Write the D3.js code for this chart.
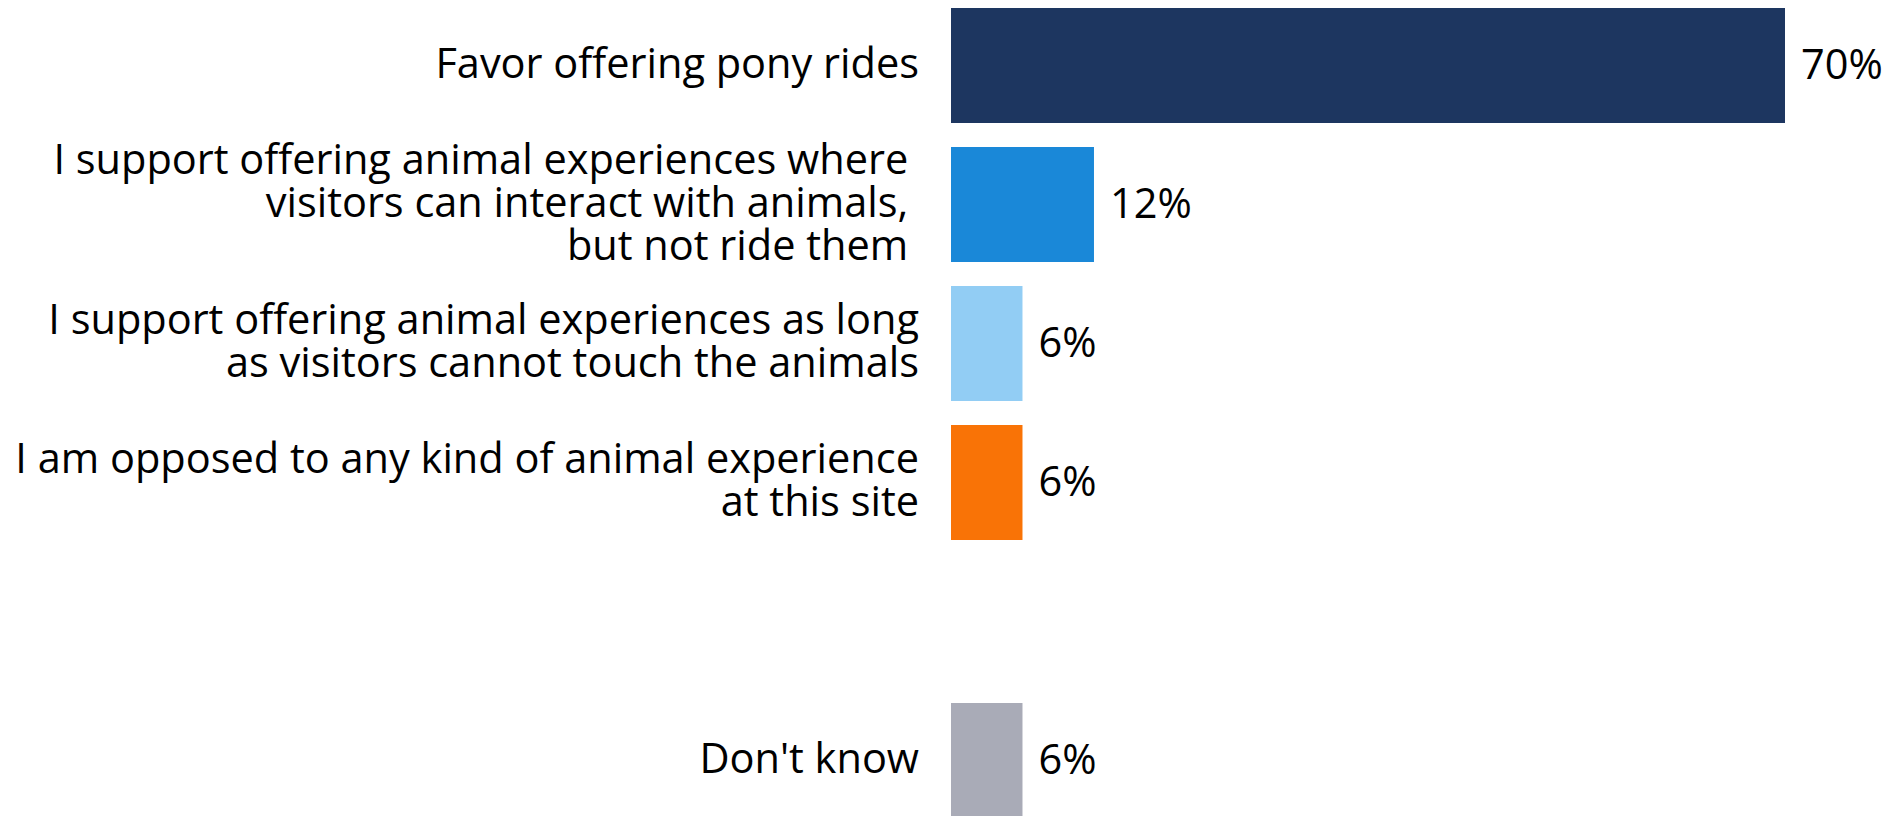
<!DOCTYPE html>
<html>
<head>
<meta charset="utf-8">
<script src="https://cdn.jsdelivr.net/npm/d3@7"></script>
<style>
  body { margin: 0; background: #fff; }
  text { font-family: "Open Sans", sans-serif; fill: #000; white-space: pre; }
</style>
</head>
<body>
<svg id="grafica"></svg>
<script>
const svg_w = 1889;
const svg_h = 816;

// categorías (líneas de cada etiqueta), valores y colores
const categories = ["pony", "interact", "notouch", "opposed", "gap", "dontknow"];
const label_lines = [
  ["Favor offering pony rides"],
  ["I support offering animal experiences where ", "visitors can interact with animals, ", "but not ride them "],
  ["I support offering animal experiences as long", "as visitors cannot touch the animals"],
  ["I am opposed to any kind of animal experience", "at this site"],
  [],
  ["Don't know"]
];
const values = [70, 12, 6, 6, null, 6];
const colors = ["#1d3660", "#1a88d8", "#92cdf4", "#f97306", "none", "#a9abb7"];

const margin = {l: 951, t: 8};

let data = categories.map((c, i) => ({key: c, lines: label_lines[i], value: values[i], color: colors[i]}));

let svg = d3.select("#grafica")
  .attr("width", svg_w)
  .attr("height", svg_h)

// escala x: 0-70% ocupa ~834 px
let x_scale = d3.scaleLinear()
  .domain([0, 70])
  .range([0, 834])

let y_scale = d3.scaleBand()
  .domain(categories)
  .range([margin.t, margin.t + 6 * 139 - 24])
  .paddingInner(24 / 139)
  .paddingOuter(0)

let rows = svg.append("g")
  .attr("transform", `translate(${margin.l},0)`)
  .selectAll("g")
  .data(data.filter(d => d.value != null))
  .enter()
  .append("g")
  .attr("transform", d => `translate(0,${y_scale(d.key)})`)

rows.append("rect")
  .attr("height", y_scale.bandwidth())
  .attr("width", d => x_scale(d.value))
  .attr("fill", d => d.color)

// etiquetas de valor
rows.append("text")
  .attr("x", d => x_scale(d.value) + 16)
  .attr("y", y_scale.bandwidth() / 2)
  .attr("dy", "0.32em")
  .style("font-size", "41.5px")
  .text(d => d.value + "%")

// etiquetas de categoría, alineadas a la derecha
const line_h = 43;
rows.append("text")
  .attr("text-anchor", "end")
  .style("font-size", "41.5px")
  .each(function(d) {
    let n = d.lines.length;
    d3.select(this).selectAll("tspan")
      .data(d.lines)
      .enter()
      .append("tspan")
      .attr("x", -32)
      .attr("y", (l, i) => y_scale.bandwidth() / 2 + (i - (n - 1) / 2) * line_h)
      .attr("dy", "0.3em")
      .text(l => l)
  })
</script>
</body>
</html>
